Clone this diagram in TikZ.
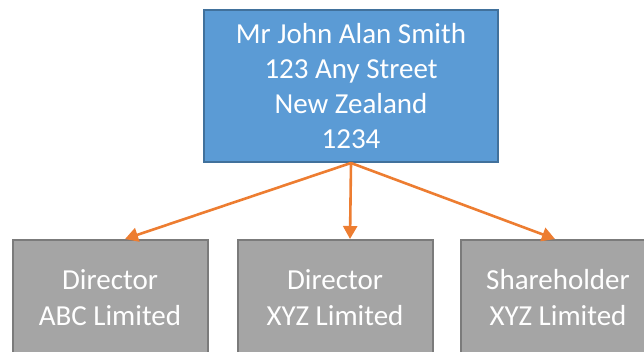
\documentclass[tikz,border=0pt]{standalone}
\usepackage{fontspec}
\setmainfont{Carlito}
\usetikzlibrary{arrows.meta}
\definecolor{boxblue}{HTML}{5B9BD5}
\definecolor{edgeblue}{HTML}{41719C}
\definecolor{boxgray}{HTML}{A5A5A5}
\definecolor{edgegray}{HTML}{7B7B7B}
\definecolor{linkorange}{HTML}{ED7D31}
\begin{document}
\begin{tikzpicture}[x=1pt, y=-1pt,
    person/.style={rectangle, draw=edgeblue, fill=boxblue, line width=2pt, text=white,
        align=center, minimum width=294pt, minimum height=152pt, font=\fontsize{29}{35}\selectfont},
    role/.style={rectangle, draw=edgegray, fill=boxgray, line width=2pt, text=white,
        align=center, minimum width=195pt, minimum height=116pt, font=\fontsize{29}{36}\selectfont},
    link/.style={draw=linkorange, line width=2.6pt, -{Triangle[length=13pt, width=14pt]}}]
        \useasboundingbox (0,0) rectangle (644,352);
        \clip (0,0) rectangle (644,352);
        \node[person] (owner) at (351,86) {Mr John Alan Smith\\123 Any Street\\New Zealand\\1234};
        \node[role] (dirabc) at (110,298) {Director\\ABC Limited};
        \node[role] (dirxyz) at (335,298) {Director\\XYZ Limited};
        \node[role] (sharexyz) at (558,298) {Shareholder\\XYZ Limited};
        \draw[link] (owner.south) -- ([xshift=15pt]dirabc.north);
        \draw[link] (owner.south) -- ([xshift=15pt]dirxyz.north);
        \draw[link] (owner.south) -- ([xshift=-3pt]sharexyz.north);
    \end{tikzpicture}
\end{document}
